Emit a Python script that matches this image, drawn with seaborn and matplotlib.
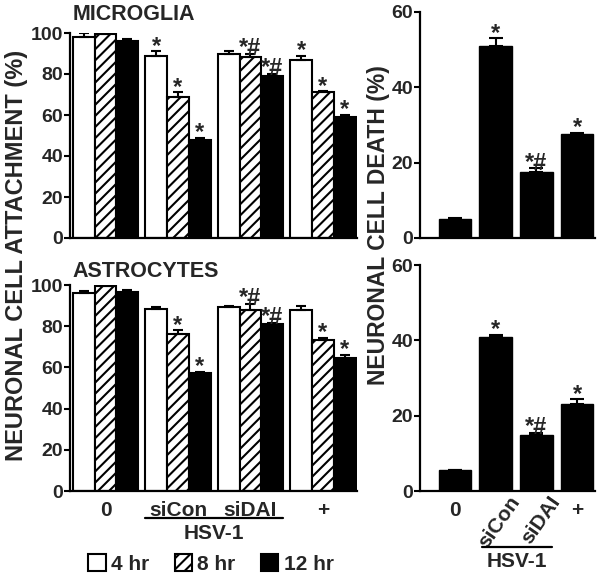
import matplotlib
matplotlib.use("Agg")
import matplotlib.pyplot as plt
import matplotlib.transforms as mtransforms
from matplotlib.patches import Patch
import numpy as np
import pandas as pd
import seaborn as sns

sns.set_style("white")
plt.rcParams["font.family"] = ["Liberation Sans", "DejaVu Sans"]
plt.rcParams["font.weight"] = "bold"
plt.rcParams["hatch.linewidth"] = 1.5

# ── data ──────────────────────────────────────────────────────────────────────
treatments = ["0", "siCon", "siDAI", "+"]
times = ["4 hr", "8 hr", "12 hr"]

# attachment (%), rows = treatment, cols = time
micro_vals = [[98, 99.5, 96], [89, 69, 48], [90, 88.5, 79], [87, 71, 59]]
micro_err = [[2, 2.5, 1], [2, 2, 1], [1, 1.5, 1], [2, 0.5, 1]]
micro_sig = [["", "", ""], ["*", "*", "*"], ["", "*#", "*#"], ["*", "*", "*"]]

astro_vals = [[96, 99.5, 96.5], [88.5, 76, 57.5], [89.5, 88, 81], [88, 73.5, 64.5]]
astro_err = [[1, 1.5, 1], [1, 2, 0.5], [0.3, 3, 0.5], [2, 1, 1.5]]
astro_sig = [["", "", ""], ["", "*", "*"], ["", "*#", "*#"], ["", "*", "*"]]

# neuronal cell death (%)
micro_death = [5, 51, 17.5, 27.5]
micro_death_err = [0.3, 2, 1, 0.5]
astro_death = [5.5, 41, 15, 23]
astro_death_err = [0.2, 0.5, 0.5, 1.3]
death_sig = ["", "*", "*#", "*"]

W, H = 600, 578
fig = plt.figure(figsize=(6, 5.78), dpi=100)


def px_axes(x0, y0, x1, y1):
    return fig.add_axes([x0 / W, 1 - y1 / H, (x1 - x0) / W, (y1 - y0) / H])


def style_axis(ax, ymax, step):
    sns.despine(ax=ax)
    for s in ("left", "bottom"):
        ax.spines[s].set_linewidth(1.6)
        ax.spines[s].set_color("black")
    ax.set_ylim(0, ymax)
    ax.set_yticks(np.arange(0, ymax + 1, step))
    ax.tick_params(axis="y", direction="out", length=4, width=1.5, labelsize=14,
                   pad=1, left=True, color="black")
    ax.tick_params(axis="x", length=0, labelsize=15, pad=7)
    ax.set_xlabel("")
    ax.set_ylabel("")


def mark(ax, x, y, text):
    ax.annotate(text, (x, y), xytext=(0, -1), textcoords="offset points",
                ha="center", va="baseline", fontsize=17, fontweight="bold",
                annotation_clip=False)


def time_panel(ax, vals, errs, sigs, title, title_y):
    df = pd.DataFrame([(t, tm, vals[i][j]) for i, t in enumerate(treatments)
                       for j, tm in enumerate(times)], columns=["treat", "time", "value"])
    sns.barplot(data=df, x="treat", y="value", hue="time", order=treatments,
                hue_order=times, palette=["white", "white", "black"], edgecolor="black",
                linewidth=1.5, width=0.9, errorbar=None, legend=False, ax=ax)
    bar_conts = list(ax.containers)
    for j, cont in enumerate(bar_conts):
        for i, bar in enumerate(cont.patches):
            if j == 1:
                bar.set_hatch("///")
            x = bar.get_x() + bar.get_width() / 2
            ax.errorbar(x, vals[i][j], yerr=[[0], [errs[i][j]]], fmt="none",
                        ecolor="black", elinewidth=1.5, capsize=3.5, capthick=1.5)
            if sigs[i][j]:
                mark(ax, x, vals[i][j] + errs[i][j], sigs[i][j])
    ax.set_xlim(-0.49, 3.47)
    style_axis(ax, 100, 20)
    ax.text(0.01, title_y, title, transform=ax.transAxes, fontsize=15.5,
            fontweight="bold", va="baseline")


def death_panel(ax, vals, errs):
    df = pd.DataFrame({"treat": treatments, "value": vals})
    sns.barplot(data=df, x="treat", y="value", order=treatments, color="black",
                edgecolor="black", width=0.8, errorbar=None, ax=ax)
    bars = list(ax.containers[0].patches)
    for i, bar in enumerate(bars):
        x = bar.get_x() + bar.get_width() / 2
        ax.errorbar(x, vals[i], yerr=[[0], [errs[i]]], fmt="none", ecolor="black",
                    elinewidth=1.5, capsize=5, capthick=1.5)
        if death_sig[i]:
            mark(ax, x, vals[i] + errs[i], death_sig[i])
    ax.set_xlim(-0.86, 3.44)
    style_axis(ax, 60, 20)


ax1 = px_axes(70, 33, 357, 238)
time_panel(ax1, micro_vals, micro_err, micro_sig, "MICROGLIA", 1.065)
ax1.set_xticklabels([])

ax2 = px_axes(70, 285, 357, 491)
time_panel(ax2, astro_vals, astro_err, astro_sig, "ASTROCYTES", 1.04)
for lab in ax2.get_xticklabels():
    lab.set_fontweight("bold")
tr2 = mtransforms.blended_transform_factory(ax2.transData, ax2.transAxes)
ax2.plot([0.55, 2.45], [-0.13, -0.13], color="black", lw=1.6, transform=tr2, clip_on=False)
ax2.text(1.5, -0.16, "HSV-1", transform=tr2, ha="center", va="top", fontsize=15,
         fontweight="bold")

ax3 = px_axes(420, 12, 595, 238)
death_panel(ax3, micro_death, micro_death_err)
ax3.set_xticklabels([])

ax4 = px_axes(420, 265, 595, 491)
death_panel(ax4, astro_death, astro_death_err)
shift = mtransforms.ScaledTranslation(9 / 72, 6 / 72, fig.dpi_scale_trans)
for k, lab in enumerate(ax4.get_xticklabels()):
    lab.set_fontweight("bold")
    if k in (1, 2):
        lab.set_rotation(55)
        lab.set_ha("right")
        lab.set_va("top")
        lab.set_rotation_mode("anchor")
        lab.set_transform(lab.get_transform() + shift)
tr4 = mtransforms.blended_transform_factory(ax4.transData, ax4.transAxes)
ax4.plot([0.66, 2.38], [-0.248, -0.248], color="black", lw=1.6, transform=tr4, clip_on=False)
ax4.text(1.52, -0.27, "HSV-1", transform=tr4, ha="center", va="top", fontsize=15,
         fontweight="bold")

fig.text(17 / W, 1 - 255 / H, "NEURONAL CELL ATTACHMENT (%)", rotation=90,
         ha="center", va="center", fontsize=17, fontweight="bold")
fig.text(378 / W, 1 - 225 / H, "NEURONAL CELL DEATH (%)", rotation=90,
         ha="center", va="center", fontsize=16.5, fontweight="bold")

handles = [Patch(facecolor="white", edgecolor="black", linewidth=1.5),
           Patch(facecolor="white", edgecolor="black", linewidth=1.5, hatch="///"),
           Patch(facecolor="black", edgecolor="black", linewidth=1.5)]
fig.legend(handles, times, loc="center", bbox_to_anchor=(211 / W, 1 - 564 / H), ncol=3,
           frameon=False, fontsize=15, handlelength=0.85, handleheight=0.85,
           handletextpad=0.25, columnspacing=1.2, borderaxespad=0)

fig.savefig("out.png", dpi=100)
